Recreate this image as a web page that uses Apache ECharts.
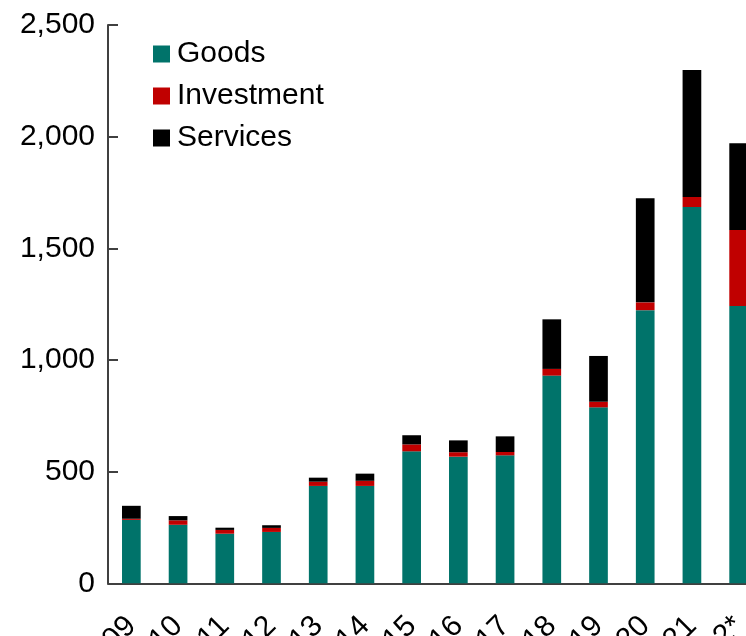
<!DOCTYPE html>
<html>
<head>
<meta charset="utf-8">
<style>
html, body { margin:0; padding:0; overflow:hidden; background:#fff; width:746px; height:636px; }
#chart { width:800px; height:720px; }
</style>
<script src="https://cdn.jsdelivr.net/npm/echarts@6/dist/echarts.min.js"></script>
</head>
<body>
<div id="chart"></div>
<script>
const categories = ['2009','2010','2011','2012','2013','2014','2015','2016','2017','2018','2019','2020','2021','2022*'];
const goods      = [284, 262, 222, 230, 436, 436, 591, 567, 573, 930, 788, 1223, 1685, 1242];
const investment = [5,   20,  17,  18,  19,  23,  31,  20,  15,  30,  25,  35,   45,   340];
const services   = [58,  19,  10,  12,  18,  32,  41,  53,  70,  222, 205, 466,  569,  388];
const yTicks = { min: 0, max: 2500, interval: 500 };

const chart = echarts.init(document.getElementById('chart'), null, { renderer: 'canvas' });
const font = 'Liberation Sans, Arial, sans-serif';
const mk = (name, data, color) => ({
  name, type: 'bar', stack: 'total', data, barWidth: '40%',
  itemStyle: { color }, emphasis: { disabled: true }
});
chart.setOption({
  animation: false,
  textStyle: { fontFamily: font },
  grid: { left: 108, top: 25, width: 654, height: 558.3, containLabel: false },
  legend: {
    orient: 'vertical', left: 153, top: 39,
    itemWidth: 17, itemHeight: 17, itemGap: 12, padding: 0,
    icon: 'rect',
    textStyle: { fontSize: 30, color: '#000', fontFamily: font, padding: [0, 0, 0, 2] },
    data: ['Goods', 'Investment', 'Services']
  },
  xAxis: {
    type: 'category', data: categories, boundaryGap: true,
    axisLine: { lineStyle: { color: '#404040', width: 2 } },
    axisTick: { show: false },
    axisLabel: { rotate: 45, fontSize: 30, color: '#000', margin: 38, interval: 0, fontFamily: font, padding: [0, 0, 0, 0] }
  },
  yAxis: {
    type: 'value', min: yTicks.min, max: yTicks.max, interval: yTicks.interval,
    splitLine: { show: false },
    axisLine: { show: true, lineStyle: { color: '#404040', width: 2 } },
    axisTick: { show: true, inside: true, length: 10, lineStyle: { color: '#404040', width: 2 } },
    axisLabel: {
      fontSize: 30, color: '#000', margin: 13, fontFamily: font,
      formatter: v => v.toLocaleString('en-US')
    }
  },
  series: [
    mk('Goods', goods, '#00736A'),
    mk('Investment', investment, '#C00000'),
    mk('Services', services, '#000000')
  ]
});
</script>
</body>
</html>
